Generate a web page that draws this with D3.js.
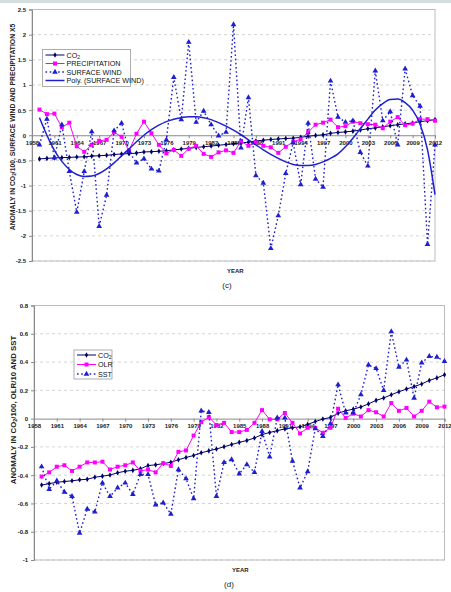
<!DOCTYPE html>
<html>
<head>
<meta charset="utf-8">
<script src="https://cdnjs.cloudflare.com/ajax/libs/d3/7.8.5/d3.min.js"></script>
<style>
body { margin: 0; background: #fff; }
svg { display: block; }
text { font-family: "Liberation Sans", Arial, sans-serif; }
</style>
</head>
<body>
<svg id="chart" width="451" height="592"></svg>
<script>
// years 1959-2012, labels every 3 years from 1958
var years = d3.range(1959, 2013);
var yearTicks = d3.range(1958, 2013, 3);

var co2 = [-0.47, -0.46, -0.45, -0.445, -0.44, -0.433, -0.429, -0.415, -0.407, -0.399,
  -0.383, -0.372, -0.366, -0.355, -0.332, -0.327, -0.318, -0.309, -0.291, -0.275,
  -0.261, -0.242, -0.228, -0.215, -0.199, -0.183, -0.168, -0.155, -0.137, -0.113,
  -0.098, -0.085, -0.073, -0.065, -0.058, -0.041, -0.021, -0.003, 0.008, 0.038,
  0.055, 0.067, 0.082, 0.104, 0.129, 0.146, 0.169, 0.19, 0.209, 0.227,
  0.245, 0.27, 0.288, 0.31];

var precipitation = [0.51, 0.42, 0.43, 0.16, 0.25, -0.22, -0.33, -0.19, -0.11, -0.09,
  0.06, -0.03, -0.31, 0.03, 0.27, 0.04, -0.19, -0.36, -0.29, -0.41,
  -0.27, -0.21, -0.37, -0.43, -0.34, -0.3, -0.35, -0.12, -0.21, -0.14,
  -0.21, -0.24, -0.35, -0.23, -0.13, -0.08, 0.06, 0.21, 0.25, 0.31,
  0.16, 0.18, 0.27, 0.24, 0.22, 0.21, 0.14, 0.27, 0.36, 0.2,
  0.23, 0.32, 0.32, 0.29];

var surfaceWind = [-0.19, 0.32, -0.45, 0.21, -0.72, -1.53, -0.72, 0.07, -1.81, -1.19,
  0.09, 0.24, -0.32, -0.55, -0.47, -0.67, -0.71, -0.09, 1.15, 0.31,
  1.85, 0.26, 0.48, 0.21, -0.01, 0.06, 2.2, -0.25, 0.75, -0.8,
  -0.95, -2.25, -1.6, -0.76, -0.15, -0.98, 0.24, -0.87, -1.03, 1.08,
  0.36, 0.26, 0.29, -0.34, -0.61, 1.28, 0.29, 0.47, -0.19, 1.32,
  0.79, 0.58, -2.17, -0.19];

// Poly. (SURFACE WIND) trendline
var windTrend = [0.35, 0.0, -0.3, -0.52, -0.68, -0.78, -0.82, -0.81, -0.76, -0.67,
  -0.55, -0.41, -0.27, -0.13, 0.0, 0.11, 0.2, 0.27, 0.32, 0.35,
  0.37, 0.37, 0.35, 0.31, 0.25, 0.18, 0.1, 0.01, -0.09, -0.19,
  -0.29, -0.38, -0.46, -0.53, -0.58, -0.6, -0.6, -0.58, -0.53, -0.46,
  -0.37, -0.23, -0.06, 0.13, 0.32, 0.5, 0.63, 0.71, 0.72, 0.65,
  0.5, 0.22, -0.29, -1.18];

var olr = [-0.41, -0.38, -0.34, -0.33, -0.37, -0.34, -0.31, -0.31, -0.305, -0.36,
  -0.34, -0.33, -0.31, -0.37, -0.36, -0.38, -0.315, -0.335, -0.235, -0.225,
  -0.12, -0.025, 0.01, -0.045, -0.03, -0.095, -0.095, -0.08, -0.03, 0.06,
  -0.005, -0.005, 0.04, -0.03, -0.105, -0.065, -0.065, -0.1, -0.065, 0.07,
  0.005, 0.035, 0.015, 0.06, 0.045, 0.015, 0.11, 0.055, 0.075, 0.015,
  0.055, 0.12, 0.08, 0.085];

var sst = [-0.34, -0.5, -0.44, -0.52, -0.55, -0.81, -0.64, -0.66, -0.455, -0.55,
  -0.49, -0.455, -0.535, -0.395, -0.395, -0.61, -0.595, -0.675, -0.36, -0.425,
  -0.565, 0.055, 0.045, -0.55, -0.31, -0.29, -0.39, -0.325, -0.38, -0.09,
  -0.27, 0.005, 0.005, -0.3, -0.49, -0.375, -0.07, -0.125, -0.035, 0.24,
  0.04, 0.04, 0.17, 0.38, 0.355, 0.2, 0.615, 0.365, 0.415, 0.145,
  0.395, 0.44, 0.435, 0.405];

var yTicksC = [-2.5, -2, -1.5, -1, -0.5, 0, 0.5, 1, 1.5, 2, 2.5];
var yTicksD = [-1, -0.8, -0.6, -0.4, -0.2, 0, 0.2, 0.4, 0.6, 0.8];

var NAVY = "#000066", MAGENTA = "#ff00ff", BLUE = "#1f1fd0";

var svg = d3.select("#chart");

// thin band at the very top of the page
svg.append("rect").attr("x", 0).attr("y", 0).attr("width", 451).attr("height", 3).attr("fill", "#d3dede");

function addCO2Text(sel, before, after, size) {
  sel.append("tspan").text(before);
  sel.append("tspan").attr("font-size", size * 0.7).attr("dy", size * 0.25).text("2");
  sel.append("tspan").attr("dy", -size * 0.25).text(after);
}

function drawMarker(g, type, color, cx, cy) {
  var sym = null, size = 0;
  if (type == "dot") { sym = d3.symbolDiamond; size = 9; }
  else if (type == "square") { sym = d3.symbolSquare; size = 16; }
  else if (type == "triangle") { sym = d3.symbolTriangle; size = 14; }
  if (!sym) return;
  g.append("path").attr("d", d3.symbol(sym, size)())
    .attr("transform", "translate(" + cx + "," + cy + ")").attr("fill", color);
}

function drawPanel(p) {
  var g = svg.append("g");
  var x = d3.scaleLinear().domain([1958, 2012]).range([p.left, p.right]);
  var y = d3.scaleLinear().domain([p.yTicks[0], p.yTicks[p.yTicks.length - 1]]).range([p.bottom, p.top]);

  // dashed gridlines
  g.selectAll("line.grid").data(p.yTicks.filter(function(v) { return v != 0; }))
    .enter().append("line")
    .attr("x1", p.left).attr("x2", p.right)
    .attr("y1", function(d) { return y(d); }).attr("y2", function(d) { return y(d); })
    .attr("stroke", "#c8c8c8").attr("stroke-width", 0.8).attr("stroke-dasharray", "3,3");

  g.append("rect").attr("x", p.left).attr("y", p.top)
    .attr("width", p.right - p.left).attr("height", p.bottom - p.top)
    .attr("fill", "none").attr("stroke", "#bdbdbd").attr("stroke-width", 1);

  var yAxis = g.append("g").attr("transform", "translate(" + p.left + ",0)")
    .call(d3.axisLeft(y).tickValues(p.yTicks).tickSize(3).tickPadding(3).tickFormat(function(d) { return String(d); }));
  var xAxis = g.append("g").attr("transform", "translate(0," + y(0) + ")")
    .call(d3.axisBottom(x).tickValues(yearTicks).tickSize(3).tickPadding(2).tickFormat(d3.format("d")));
  [yAxis, xAxis].forEach(function(a) {
    a.select(".domain").attr("stroke", "#8a8a8a");
    a.selectAll(".tick line").attr("stroke", "#8a8a8a");
    a.selectAll("text").attr("font-family", "Liberation Sans, Arial, sans-serif")
      .attr("font-weight", "bold").attr("font-size", 6).attr("fill", "#222");
  });

  // series
  p.series.forEach(function(s) {
    var pts = years.map(function(yr, i) { return [yr, s.values[i]]; });
    var line = d3.line().x(function(d) { return x(d[0]); }).y(function(d) { return y(d[1]); });
    if (s.smooth) line.curve(d3.curveMonotoneX);
    g.append("path").datum(pts).attr("d", line).attr("fill", "none")
      .attr("stroke", s.color).attr("stroke-width", s.width)
      .attr("stroke-dasharray", s.dash || null);
    pts.forEach(function(d) { drawMarker(g, s.marker, s.color, x(d[0]), y(d[1])); });
  });

  // legend
  var L = p.legend;
  g.append("rect").attr("x", L.x).attr("y", L.y).attr("width", L.w).attr("height", L.h)
    .attr("fill", "#fff").attr("stroke", "#9a9a9a").attr("stroke-width", 0.8);
  L.items.forEach(function(it, i) {
    var ly = L.y + L.first + i * L.step;
    g.append("line").attr("x1", L.x + 3).attr("x2", L.x + 22).attr("y1", ly).attr("y2", ly)
      .attr("stroke", it.color).attr("stroke-width", it.width).attr("stroke-dasharray", it.dash || null);
    drawMarker(g, it.marker, it.color, L.x + 12.5, ly);
    var t = g.append("text").attr("x", L.x + 24).attr("y", ly + 2.6).attr("font-size", 7.2).attr("fill", "#111");
    if (it.co2) addCO2Text(t, "CO", "", 7.2); else t.text(it.label);
  });

  // titles
  var yt = g.append("text").attr("transform", "translate(" + p.ytX + "," + p.ytY + ") rotate(-90)")
    .attr("text-anchor", "middle").attr("font-weight", "bold").attr("font-size", p.ytSize).attr("fill", "#222");
  addCO2Text(yt, "ANOMALY IN CO", p.ytRest, p.ytSize);

  g.append("text").attr("x", p.yearX).attr("y", p.yearY).attr("font-weight", "bold")
    .attr("font-size", 6).attr("fill", "#222").text("YEAR");
  g.append("text").attr("x", p.capX).attr("y", p.capY).attr("text-anchor", "middle")
    .attr("font-family", "Liberation Serif, Times New Roman, serif").attr("font-size", 8).attr("fill", "#222")
    .text(p.caption);
}

drawPanel({
  left: 32, right: 435, top: 9.5, bottom: 261, yTicks: yTicksC,
  series: [
    { values: co2, color: NAVY, width: 1, marker: "dot" },
    { values: precipitation, color: MAGENTA, width: 1, marker: "square" },
    { values: surfaceWind, color: BLUE, width: 1.4, dash: "1.6,2.6", marker: "triangle" },
    { values: windTrend, color: BLUE, width: 1.5, marker: "none", smooth: true }
  ],
  legend: { x: 42.5, y: 49.5, w: 88, h: 37, first: 5.5, step: 8.5, items: [
    { co2: true, color: NAVY, width: 1, marker: "dot" },
    { label: "PRECIPITATION", color: MAGENTA, width: 1, marker: "square" },
    { label: "SURFACE WIND", color: BLUE, width: 1.4, dash: "1.6,2.6", marker: "triangle" },
    { label: "Poly. (SURFACE WIND)", color: BLUE, width: 1.5, marker: "none" }
  ] },
  ytX: 14.5, ytY: 127, ytSize: 6.8, ytRest: "/100, SURFACE WIND AND PRECIPITATION X5",
  yearX: 227, yearY: 273, capX: 227, capY: 288, caption: "(c)"
});

drawPanel({
  left: 34, right: 444.5, top: 305.5, bottom: 560, yTicks: yTicksD,
  series: [
    { values: co2, color: NAVY, width: 1, marker: "dot" },
    { values: olr, color: MAGENTA, width: 1, marker: "square" },
    { values: sst, color: BLUE, width: 1.4, dash: "1.6,2.6", marker: "triangle" }
  ],
  legend: { x: 74, y: 350, w: 38, h: 29, first: 5, step: 9.5, items: [
    { co2: true, color: NAVY, width: 1, marker: "dot" },
    { label: "OLR", color: MAGENTA, width: 1, marker: "square" },
    { label: "SST", color: BLUE, width: 1.4, dash: "1.6,2.6", marker: "triangle" }
  ] },
  ytX: 15.5, ytY: 410, ytSize: 7.8, ytRest: "/100, OLR/10 AND SST",
  yearX: 232, yearY: 572, capX: 229, capY: 587, caption: "(d)"
});
</script>
</body>
</html>
